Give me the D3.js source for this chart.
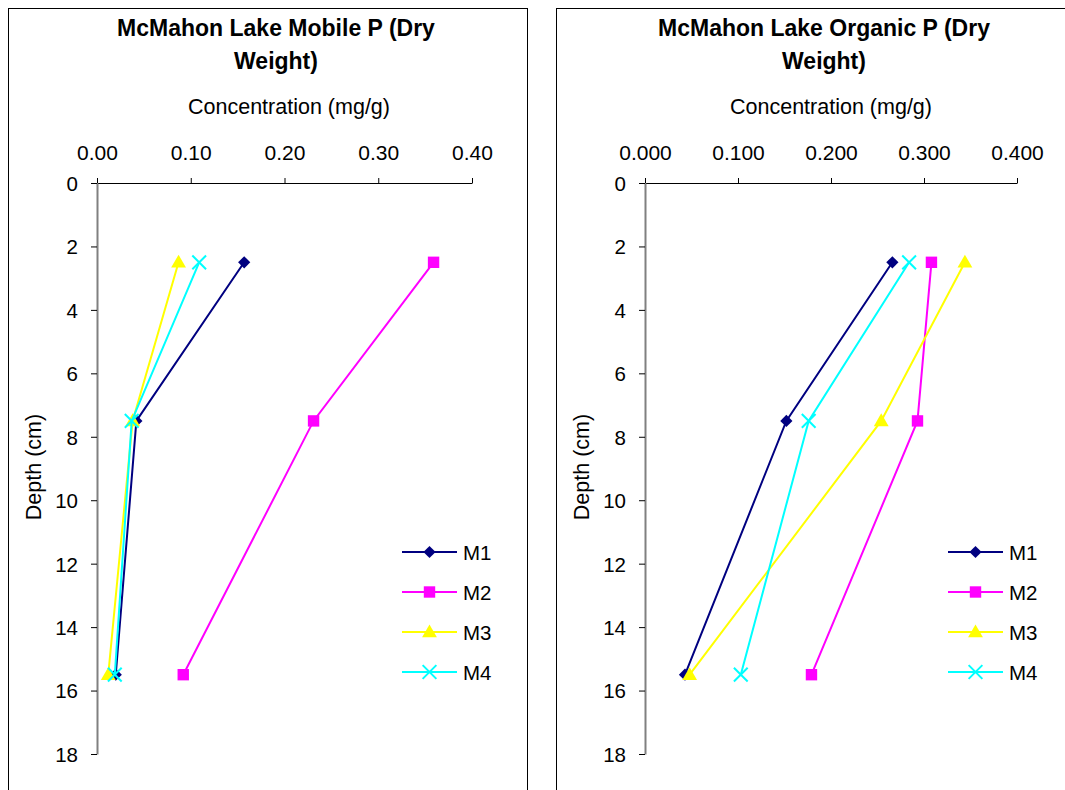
<!DOCTYPE html>
<html><head><meta charset="utf-8">
<script src="https://cdn.jsdelivr.net/npm/d3@7"></script>
<style>body{margin:0;background:#fff;}svg{display:block;font-family:"Liberation Sans",Arial,sans-serif;}</style>
</head><body>
<svg id="chart" width="1065" height="790"></svg>
<script>
const depths = [2.5, 7.5, 15.5];
const seriesNames = ["M1", "M2", "M3", "M4"];
const seriesColors = ["#000080", "#FF00FF", "#FFFF00", "#00FFFF"];
const seriesSymbols = ["diamond", "square", "triangle", "x"];
const mobileM1 = [0.157, 0.042, 0.020];
const mobileM2 = [0.359, 0.231, 0.092];
const mobileM3 = [0.087, 0.038, 0.012];
const mobileM4 = [0.109, 0.037, 0.019];
const organicM1 = [0.266, 0.152, 0.043];
const organicM2 = [0.308, 0.293, 0.179];
const organicM3 = [0.344, 0.254, 0.048];
const organicM4 = [0.284, 0.176, 0.103];
const xTicks = [0, 0.1, 0.2, 0.3, 0.4];
const yTicks = [0, 2, 4, 6, 8, 10, 12, 14, 16, 18];

const svg = d3.select("#chart");
const FONT = "Liberation Sans, Arial, sans-serif";

function drawChart(cfg) {
  const g = svg.append("g");
  g.append("rect").attr("x", cfg.fx + 0.5).attr("y", 8.5).attr("width", cfg.fw).attr("height", 800)
    .attr("fill", "#fff").attr("stroke", "#000").attr("stroke-width", 1);
  const x = d3.scaleLinear().domain([0, 0.4]).range([cfg.x0, cfg.x1]);
  const y = d3.scaleLinear().domain([0, 18]).range([183, 754]);
  // title
  cfg.title.forEach((t, i) => {
    g.append("text").attr("x", cfg.tc).attr("y", 36 + i * 33).attr("text-anchor", "middle")
      .attr("font-size", 23).attr("font-weight", "bold").text(t);
  });
  g.append("text").attr("x", cfg.ac).attr("y", 114).attr("text-anchor", "middle")
    .attr("font-size", 21.5).text("Concentration (mg/g)");
  g.append("text").attr("transform", `translate(${cfg.x0 - 56},467) rotate(-90)`).attr("text-anchor", "middle")
    .attr("font-size", 21.5).text("Depth (cm)");
  // x axis (top)
  const xa = g.append("g").attr("transform", "translate(0,183)")
    .call(d3.axisTop(x).tickValues(xTicks).tickFormat(d3.format(cfg.fmt)).tickSize(5).tickSizeOuter(0));
  xa.select(".domain").attr("stroke", "#000");
  xa.selectAll("text").attr("font-size", 21).attr("font-family", FONT)
    .attr("fill", "#000").attr("dy", "-15.5");
  xa.selectAll(".tick line").attr("stroke", "#000");
  // y axis
  const ya = g.append("g").attr("transform", `translate(${cfg.x0},0)`)
    .call(d3.axisLeft(y).tickValues(yTicks).tickSize(6).tickSizeOuter(0));
  ya.select(".domain").attr("stroke", "#808080").attr("stroke-width", 2);
  ya.selectAll("text").attr("font-size", 20.5).attr("font-family", FONT)
    .attr("fill", "#000").attr("dx", "-10").attr("dy", "0.36em");
  ya.selectAll(".tick line").attr("stroke", "#000");
  // series
  const line = d3.line().x(d => x(d.v)).y(d => y(d.d));
  const sym = {
    diamond: d3.symbol().type(d3.symbolDiamond2).size(95),
    square: d3.symbol().type(d3.symbolSquare).size(130),
    triangle: d3.symbol().type(d3.symbolTriangle).size(95),
    x: d3.symbol().type(d3.symbolTimes).size(125)
  };
  cfg.series.forEach((vals, i) => {
    const pts = vals.map((v, j) => ({v, d: depths[j]}));
    g.append("path").datum(pts).attr("d", line).attr("fill", "none")
      .attr("stroke", seriesColors[i]).attr("stroke-width", 2);
    pts.forEach(p => drawMarker(g, seriesSymbols[i], seriesColors[i], x(p.v), y(p.d), sym));
  });
  // legend
  seriesNames.forEach((n, i) => {
    const ly = 552 + i * 40;
    g.append("line").attr("x1", cfg.lx).attr("x2", cfg.lx + 55).attr("y1", ly).attr("y2", ly)
      .attr("stroke", seriesColors[i]).attr("stroke-width", 2);
    drawMarker(g, seriesSymbols[i], seriesColors[i], cfg.lx + 27.5, ly, sym);
    g.append("text").attr("x", cfg.lx + 61).attr("y", ly + 7.5).attr("font-size", 20.5).text(n);
  });
}

function drawMarker(g, s, c, px, py, sym) {
  const p = g.append("path").attr("d", sym[s]()).attr("transform", `translate(${px},${py + (s === "triangle" ? 1 : 0)})`);
  if (s === "x") p.attr("fill", "none").attr("stroke", c).attr("stroke-width", 2);
  else p.attr("fill", c).attr("stroke", "none");
}

drawChart({fx: 8, fw: 519, x0: 97, x1: 472, tc: 276, ac: 289, lx: 402, fmt: ".2f",
  title: ["McMahon Lake Mobile P (Dry", "Weight)"],
  series: [mobileM1, mobileM2, mobileM3, mobileM4]});
drawChart({fx: 556, fw: 600, x0: 645, x1: 1017, tc: 824, ac: 831, lx: 948, fmt: ".3f",
  title: ["McMahon Lake Organic P (Dry", "Weight)"],
  series: [organicM1, organicM2, organicM3, organicM4]});
</script>
</body></html>
